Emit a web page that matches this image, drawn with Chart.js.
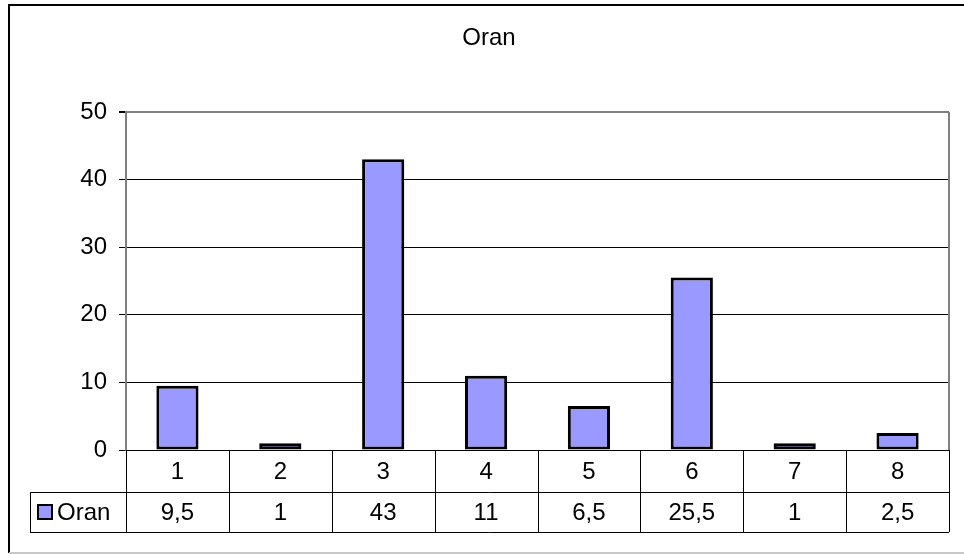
<!DOCTYPE html>
<html>
<head>
<meta charset="utf-8">
<script src="https://cdn.jsdelivr.net/npm/chart.js@4/dist/chart.umd.min.js"></script>
<style>
  html, body { margin: 0; padding: 0; background: #fff; }
  #wrap { width: 964px; height: 554px; position: relative; }
</style>
</head>
<body>
<div id="wrap"><canvas id="chart" width="964" height="554"></canvas></div>
<script>
// chart data
const chartTitle = 'Oran';
const seriesName = 'Oran';
const categories = ['1', '2', '3', '4', '5', '6', '7', '8'];
const oranValues = [9.5, 1, 43, 11, 6.5, 25.5, 1, 2.5];
const yTicks = [0, 10, 20, 30, 40, 50];

const FONT = "'Liberation Sans', Arial, sans-serif";
const FONT_SIZE = 24;
const BAR_FILL = '#9999FF';

// number with a decimal comma, as in the table
const fmt = v => String(v).replace('.', ',');

// frame, title, right plot border and the data table under the axis
const excelFrame = {
  id: 'excelFrame',
  afterDraw(chart) {
    const ctx = chart.ctx;
    const area = chart.chartArea;
    const xs = chart.scales.x;
    ctx.save();

    // outer frame
    ctx.strokeStyle = '#000';
    ctx.lineWidth = 2;
    ctx.beginPath();
    ctx.moveTo(970, 5);
    ctx.lineTo(9, 5);
    ctx.lineTo(9, 553);
    ctx.stroke();
    ctx.strokeStyle = '#c8c8c8';
    ctx.beginPath();
    ctx.moveTo(9, 553);
    ctx.lineTo(970, 553);
    ctx.stroke();

    // title
    ctx.fillStyle = '#000';
    ctx.font = `${FONT_SIZE}px ${FONT}`;
    ctx.textAlign = 'center';
    ctx.textBaseline = 'middle';
    ctx.fillText(chartTitle, 489, 38);

    // right border of the plot area
    ctx.strokeStyle = '#808080';
    ctx.lineWidth = 2;
    ctx.beginPath();
    ctx.moveTo(area.right, area.top);
    ctx.lineTo(area.right, area.bottom);
    ctx.stroke();

    // data table
    const rowTop = area.bottom;
    const rowMid = rowTop + 42;
    const rowBot = rowMid + 40;
    const step = (xs.getPixelForValue(1) - xs.getPixelForValue(0));
    const edges = categories.map((c, i) => xs.getPixelForValue(i) - step / 2);
    edges.push(area.right);

    ctx.strokeStyle = '#000';
    ctx.lineWidth = 1;
    ctx.beginPath();
    edges.forEach(x => {
      const px = Math.round(x) + 0.5;
      ctx.moveTo(px, rowTop);
      ctx.lineTo(px, rowBot);
    });
    ctx.moveTo(30, rowMid + 0.5);
    ctx.lineTo(area.right, rowMid + 0.5);
    ctx.moveTo(30, rowBot + 0.5);
    ctx.lineTo(area.right, rowBot + 0.5);
    ctx.moveTo(30.5, rowMid);
    ctx.lineTo(30.5, rowBot);
    ctx.stroke();

    ctx.fillStyle = '#000';
    categories.forEach((c, i) => {
      const cx = xs.getPixelForValue(i);
      ctx.fillText(c, cx, (rowTop + rowMid) / 2 + 1);
      ctx.fillText(fmt(oranValues[i]), cx, (rowMid + rowBot) / 2 + 1);
    });

    // legend key in the table
    ctx.fillStyle = BAR_FILL;
    ctx.fillRect(38, 505, 14, 14);
    ctx.strokeStyle = '#000';
    ctx.lineWidth = 2;
    ctx.strokeRect(38, 505, 14, 14);
    ctx.fillStyle = '#000';
    ctx.textAlign = 'left';
    ctx.fillText(seriesName, 57, (rowMid + rowBot) / 2 + 1);

    ctx.restore();
  }
};

new Chart(document.getElementById('chart'), {
  type: 'bar',
  data: {
    labels: categories,
    datasets: [{
      label: seriesName,
      data: oranValues,
      backgroundColor: BAR_FILL,
      borderColor: '#000',
      borderWidth: 3,
      borderSkipped: false,
      categoryPercentage: 1,
      barPercentage: 0.41,
    }],
  },
  options: {
    responsive: false,
    animation: false,
    layout: { padding: { top: 112, right: 15, bottom: 104, left: 0 } },
    plugins: {
      legend: { display: false },
      title: { display: false },
      tooltip: { enabled: false },
    },
    scales: {
      x: {
        display: false,
      },
      y: {
        min: 0,
        max: 50,
        afterFit: s => { s.width = 126; },
        afterBuildTicks: s => { s.ticks = yTicks.map(v => ({ value: v })); },
        border: { display: true, color: '#808080', width: 2 },
        grid: {
          color: c => (c.tick && c.tick.value === 50 ? '#808080' : '#000'),
          lineWidth: c => (c.tick && c.tick.value === 50 ? 2 : 1),
          tickColor: '#000',
          tickLength: 7,
        },
        ticks: {
          color: '#000',
          padding: 12,
          font: { family: FONT, size: FONT_SIZE },
        },
      },
    },
  },
  plugins: [excelFrame],
});
</script>
</body>
</html>
